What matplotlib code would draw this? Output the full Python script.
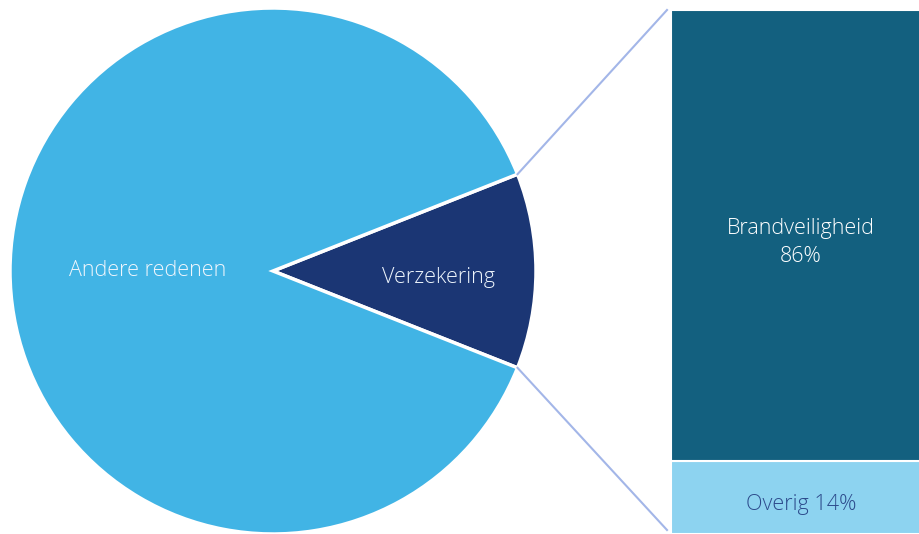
import numpy as np
import matplotlib.pyplot as plt

pie_labels = ["Verzekering", "Andere redenen"]
pie_values = [12, 88]
pie_colors = ["#1b3674", "#41b4e5"]

bar_labels = ["Overig 14%", "Brandveiligheid\n86%"]
bar_values = [14, 86]
bar_colors = ["#8dd3f0", "#13607f"]
bar_text_colors = ["#2d4b8c", "white"]

plt.rcParams['font.family'] = ['Open Sans', 'DejaVu Sans']

fig = plt.figure(figsize=(9.19, 5.34), dpi=100)
ax = fig.add_axes([0, 0, 1, 1])

# pie, slice of interest centred on the right
cx, cy, r = 273, 263, 263
start = -pie_values[0] / sum(pie_values) * 360 / 2
wedges, _ = ax.pie(pie_values, colors=pie_colors, startangle=start, counterclock=True,
                   center=(cx, cy), radius=r, frame=True,
                   wedgeprops=dict(edgecolor='white', linewidth=2.5))
ax.set_xlim(0, 919)
ax.set_ylim(0, 534)
ax.set_aspect('equal')
ax.axis('off')

dists = [0.63, 0.475]
for w, lab, d in zip(wedges, pie_labels, dists):
    ang = np.deg2rad((w.theta1 + w.theta2) / 2)
    ax.text(cx + d * r * np.cos(ang), cy + d * r * np.sin(ang) - 7 * (lab == "Verzekering"),
            lab, color='#eef5fc', fontsize=15.5, fontweight='light',
            ha='center', va='center')

# stacked bar
bx, bw, btop = 671, 260, 524
scale = btop / sum(bar_values)
bottom = 0
for v, lab, c, tc in zip(bar_values, bar_labels, bar_colors, bar_text_colors):
    ax.bar(bx, v * scale, bottom=bottom, width=bw, align='edge', color=c,
           edgecolor='white', linewidth=1.5)
    ty = bottom + v * scale / 2 - 7
    ax.text(bx + 130, ty, lab, color=tc, fontsize=15.5, fontweight='light',
            ha='center', va='center', linespacing=1.4)
    bottom += v * scale

# connector lines
w = wedges[0]
for th, yb in [(w.theta2, btop), (w.theta1, 4)]:
    a = np.deg2rad(th)
    ax.plot([cx + r * np.cos(a), bx - 4], [cy + r * np.sin(a), yb],
            color='#a3b6e8', linewidth=1.5)

fig.savefig("out.png", dpi=100)
